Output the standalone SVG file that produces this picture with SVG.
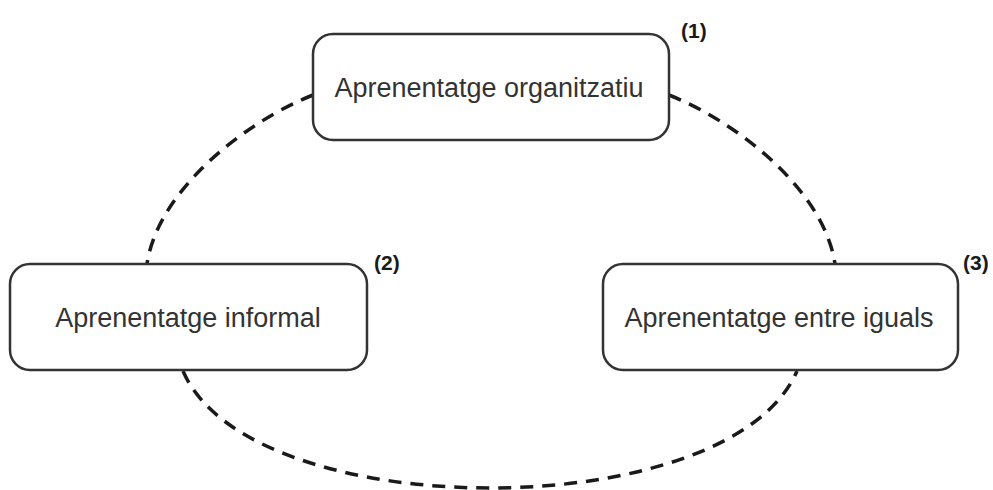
<svg xmlns="http://www.w3.org/2000/svg" width="993" height="490" viewBox="0 0 993 490">
  <style>
    .box { fill: #ffffff; stroke: #333333; stroke-width: 2.5; }
    .label { font-family: "Liberation Sans", Arial, sans-serif; font-size: 27px; fill: #333333; text-anchor: middle; }
    .num { font-family: "Liberation Sans", Arial, sans-serif; font-size: 21px; font-weight: bold; fill: #1a1a1a; }
    .link { fill: none; stroke: #1a1a1a; stroke-width: 3.5; stroke-dasharray: 13 9; }
  </style>
  <rect width="993" height="490" fill="#ffffff"/>
  <g id="connectors">
    <path class="link" d="M313,95 C245,122 158,190 147,264"/>
    <path class="link" d="M669,95 C737,122 824,190 835,264"/>
    <path class="link" d="M183,371 C250,527 730,527 797,371"/>
  </g>
  <g id="node-organitzatiu">
    <rect class="box" x="313" y="34" width="356" height="106" rx="20"/>
    <text class="label" x="489" y="97">Aprenentatge organitzatiu</text>
    <text class="num" x="681" y="38">(1)</text>
  </g>
  <g id="node-informal">
    <rect class="box" x="10" y="264" width="357" height="106" rx="20"/>
    <text class="label" x="188" y="327">Aprenentatge informal</text>
    <text class="num" x="374" y="270">(2)</text>
  </g>
  <g id="node-iguals">
    <rect class="box" x="603" y="264" width="355" height="106" rx="20"/>
    <text class="label" x="779" y="327">Aprenentatge entre iguals</text>
    <text class="num" x="963" y="270">(3)</text>
  </g>
</svg>
